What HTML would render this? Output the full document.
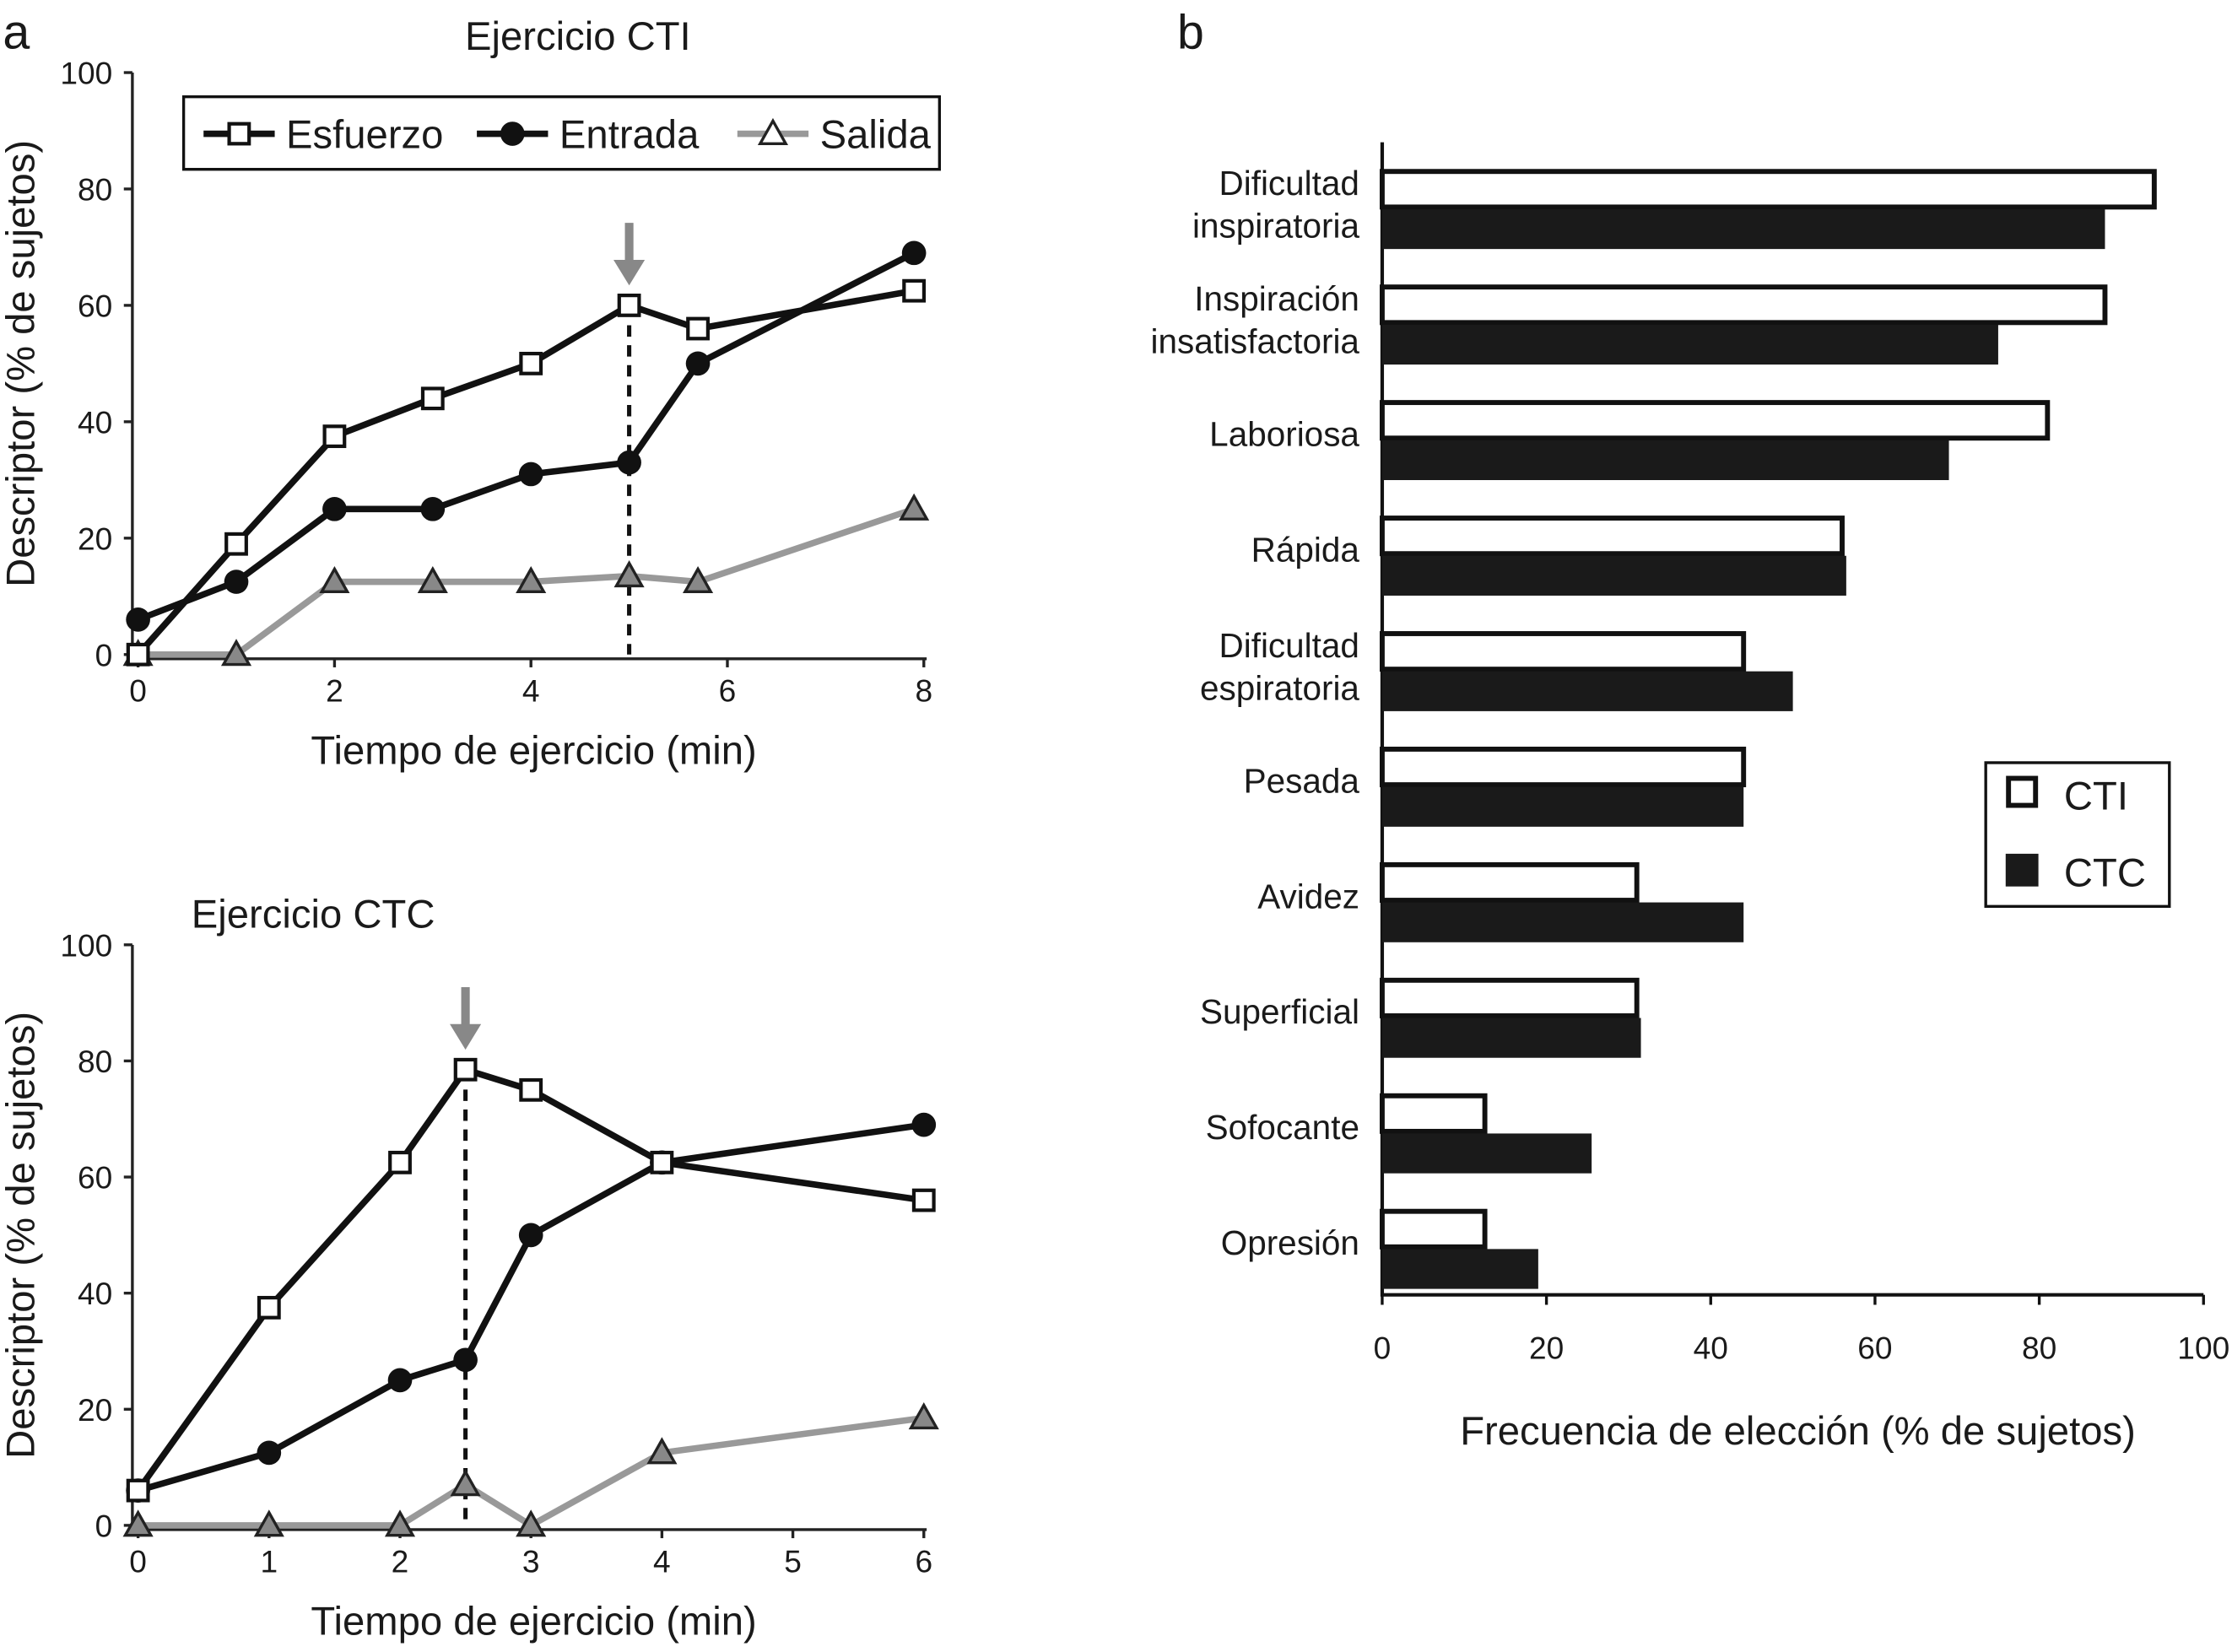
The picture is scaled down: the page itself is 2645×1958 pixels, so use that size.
<!DOCTYPE html>
<html><head><meta charset="utf-8"><style>
html,body{margin:0;padding:0;background:#fff;}
svg{display:block;}
text{font-family:"Liberation Sans",sans-serif;fill:#1a1a1a;}
</style></head><body>
<svg id="c" width="2645" height="1958" viewBox="0 0 1568 1161" preserveAspectRatio="none" xmlns="http://www.w3.org/2000/svg"></svg>
<script>
// ---- Chart A (top) data ----
const topX = [0,1,2,3,4,5,5.7,7.9];
const topEsfuerzo = [0,19,37.5,44,50,60,56,62.5];
const topEntrada = [6,12.5,25,25,31,33,50,69];
const topSalida = [0,0,12.5,12.5,12.5,13.5,12.5,25];
const topXTicks = [0,2,4,6,8];
const yTicks = [0,20,40,60,80,100];
// ---- Chart A (bottom) data ----
const botX = [0,1,2,2.5,3,4,6];
const botEsfuerzo = [6,37.5,62.5,78.5,75,62.5,56];
const botEntrada = [6,12.5,25,28.5,50,62.5,69];
const botSalida = [0,0,0,7,0,12.5,18.5];
const botXTicks = [0,1,2,3,4,5,6];
// ---- Chart B data ----
const categories = [["Dificultad","inspiratoria"],["Inspiración","insatisfactoria"],["Laboriosa"],["Rápida"],["Dificultad","espiratoria"],["Pesada"],["Avidez"],["Superficial"],["Sofocante"],["Opresión"]];
const ctiValues = [94,88,81,56,44,44,31,31,12.5,12.5];
const ctcValues = [88,75,69,56.5,50,44,44,31.5,25.5,19];
const bTicks = [0,20,40,60,80,100];

const svg = document.getElementById('c');
const NS = 'http://www.w3.org/2000/svg';
function el(tag, attrs, parent){ const e=document.createElementNS(NS,tag); for(const k in attrs) e.setAttribute(k,attrs[k]); (parent||svg).appendChild(e); return e; }
function txt(s, attrs, parent){ const t=el('text',attrs,parent); t.textContent=s; return t; }

function lineChart(o){
  const g = el('g',{});
  
  
  const xs = v => o.x0 + v*o.xStep;
  const ys = v => o.y0 - v*(o.y0-o.y100)/100;
  const ax = el('path',{d:`M${o.x0-4},${o.y100} V${o.y0+3} H${o.x0+o.xStep*o.xMax+2}`,stroke:'#222','stroke-width':2,fill:'none'},g);
   
  yTicks.forEach(t=>{
    el('line',{x1:o.x0-10,x2:o.x0-4,y1:ys(t),y2:ys(t),stroke:'#222','stroke-width':2},g);
    const l=txt(String(t),{x:o.x0-18,y:ys(t)+8,'font-size':22,'text-anchor':'end'},g);
     
  });
  o.xTicks.forEach(t=>{
    el('line',{x1:xs(t),x2:xs(t),y1:o.y0+3,y2:o.y0+9,stroke:'#222','stroke-width':2},g);
    const l=txt(String(t),{x:xs(t),y:o.y0+33,'font-size':22,'text-anchor':'middle'},g);
     
  });
  const xt=txt('Tiempo de ejercicio (min)',{x:(o.x0+xs(o.xMax))/2+2,y:o.y0+77,'font-size':28,'text-anchor':'middle'},g);
   
  const cy=(o.y0+o.y100)/2;
  const yt=txt('Descriptor (% de sujetos)',{x:24,y:cy,'font-size':28,'text-anchor':'middle',transform:`rotate(-90 24 ${cy})`},g);
   
  const tt=txt(o.title,{x:o.titleX,y:o.titleY,'font-size':28,'text-anchor':'middle'},g);
   
  const dx=xs(o.mark), dy=ys(o.markVal);
  el('line',{x1:dx,x2:dx,y1:dy,y2:o.y0,stroke:'#111','stroke-width':3,'stroke-dasharray':'8,6'},g);
  const ar=el('path',{d:`M${dx-3},${dy-58} h6 v26 h8 l-11,18 l-11,-18 h8 z`,fill:'#888'},g);
   
  function series(vals, color, marker, nm){
    const sg=el('g',{},g);
     
    el('polyline',{points:o.xv.map((x,i)=>xs(x)+','+ys(vals[i])).join(' '),fill:'none',stroke:color,'stroke-width':4.5},sg);
    o.xv.forEach((x,i)=>{
      const px=xs(x), py=ys(vals[i]);
      let m;
      if(marker==='sq') m=el('rect',{x:px-7,y:py-7,width:14,height:14,fill:'#fff',stroke:'#111','stroke-width':2.5},sg);
      else if(marker==='ci') m=el('circle',{cx:px,cy:py,r:8.5,fill:'#111'},sg);
      else m=el('path',{d:`M${px},${py-9} L${px+9},${py+7} L${px-9},${py+7} Z`,fill:'#888',stroke:'#222','stroke-width':2},sg);
       
    });
  }
  series(o.sal,'#999','tri','salida-series');
  series(o.ent,'#111','ci','entrada-series');
  series(o.esf,'#111','sq','esfuerzo-series');
}

lineChart({name:'chart-cti',x0:97,xStep:69,xMax:8,y0:460,y100:51,xv:topX,esf:topEsfuerzo,ent:topEntrada,sal:topSalida,xTicks:topXTicks,title:'Ejercicio CTI',titleX:406,titleY:35,mark:5,markVal:60});
lineChart({name:'chart-ctc',x0:97,xStep:92,xMax:6,y0:1072,y100:664,xv:botX,esf:botEsfuerzo,ent:botEntrada,sal:botSalida,xTicks:botXTicks,title:'Ejercicio CTC',titleX:220,titleY:652,mark:2.5,markVal:78.5});

(function(){
  const g=el('g',{});  
  el('rect',{x:129,y:68,width:531,height:51,fill:'#fff',stroke:'#111','stroke-width':2},g);
  const items=[['Esfuerzo',143,'sq','#111'],['Entrada',335,'ci','#111'],['Salida',518,'tri','#999']];
  items.forEach(([n,x,m,c])=>{
    const ig=el('g',{},g);  
    el('line',{x1:x,x2:x+50,y1:94,y2:94,stroke:c,'stroke-width':4.5},ig);
    const cx=x+25;
    if(m==='sq') el('rect',{x:cx-7,y:87,width:14,height:14,fill:'#fff',stroke:'#111','stroke-width':2.5},ig);
    else if(m==='ci') el('circle',{cx:cx,cy:94,r:8.5,fill:'#111'},ig);
    else el('path',{d:`M${cx},${85} L${cx+9},${101} L${cx-9},${101} Z`,fill:'#fff',stroke:'#222','stroke-width':2},ig);
    txt(n,{x:x+58,y:104,'font-size':28},ig);
  });
})();

txt('a',{x:2,y:34,'font-size':34});
txt('b',{x:827,y:34,'font-size':34});

(function(){
  const g=el('g',{});  
  const x0=971, xs=v=>x0+v*5.77;
  const top0=119, pitch=81.2, bh=28;
  el('path',{d:`M${x0},100 V910 H1548`,stroke:'#111','stroke-width':2.5,fill:'none'},g);
  bTicks.forEach(t=>{
    el('line',{x1:xs(t),x2:xs(t),y1:910,y2:917,stroke:'#111','stroke-width':2},g);
    const l=txt(String(t),{x:xs(t),y:955,'font-size':22,'text-anchor':'middle'},g);
     
  });
  const xt=txt('Frecuencia de elección (% de sujetos)',{x:1263,y:1015,'font-size':28,'text-anchor':'middle'},g);
   
  categories.forEach((lines,i)=>{
    const y=top0+i*pitch;
    const b1=el('rect',{x:x0,y:y+1.5,width:xs(ctiValues[i])-x0,height:bh-3,fill:'#fff',stroke:'#111','stroke-width':3.5},g);
     
    const b2=el('rect',{x:x0,y:y+bh,width:xs(ctcValues[i])-x0,height:bh,fill:'#1a1a1a'},g);
     
    const cy=y+bh;
    lines.forEach((s,j)=>{
      const ly = lines.length===2 ? cy-10+j*30 : cy+4;
      const l=txt(s,{x:955,y:ly,'font-size':24,'text-anchor':'end'},g);
       
    });
  });
  const lg=el('g',{},g);  
  el('rect',{x:1395,y:536,width:129,height:101,fill:'#fff',stroke:'#111','stroke-width':2},lg);
  el('rect',{x:1411,y:547,width:19,height:19,fill:'#fff',stroke:'#111','stroke-width':3.5},lg);
  txt('CTI',{x:1450,y:569,'font-size':28},lg);
  el('rect',{x:1409,y:600,width:23,height:23,fill:'#1a1a1a'},lg);
  txt('CTC',{x:1450,y:623,'font-size':28},lg);
})();
</script>
</body></html>
